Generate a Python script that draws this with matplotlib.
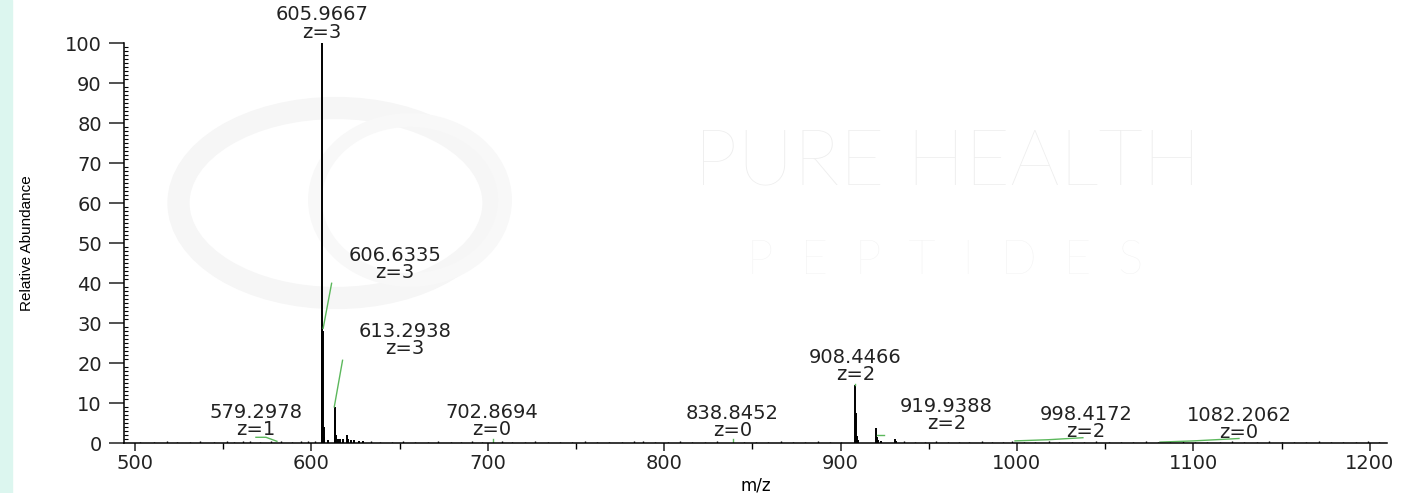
import matplotlib
matplotlib.use("Agg")
import matplotlib.pyplot as plt
from matplotlib.ticker import MultipleLocator
from matplotlib.patches import Rectangle, Ellipse

# main peaks (m/z, relative abundance)
peak_mz = [605.9667, 606.30, 606.6335, 606.97, 607.30, 609.5, 613.2938, 613.63, 613.96,
           615.0, 616.2, 618.0, 620.0, 621.0, 622.5, 624.0, 627.0, 629.5,
           908.4466, 908.95, 909.45, 910.0, 919.9388, 920.44, 921.0, 923.0, 930.8, 931.4]
peak_int = [100, 28.5, 28, 4.0, 1.5, 0.8, 9.0, 5.8, 2.0,
            1.0, 1.2, 1.0, 2.2, 1.1, 0.9, 0.8, 0.6, 0.7,
            14.7, 7.5, 1.8, 0.8, 3.8, 1.7, 0.9, 0.6, 1.1, 0.6]

# small baseline peaks
noise_mz = [503, 511, 518, 524, 531, 537, 545, 552, 556, 561, 565, 571, 577, 583, 589,
            594, 598, 602, 634, 639, 646, 652, 659, 666, 672, 679, 685, 691, 697, 708,
            714, 721, 727, 734, 741, 748, 755, 762, 769, 776, 783, 788, 795, 802, 809,
            816, 823, 830, 845, 852, 859, 866, 873, 880, 887, 894, 900, 936, 942, 948,
            954, 961, 967, 973, 980, 986, 992, 997, 1004, 1010, 1018, 1024, 1031, 1038,
            1045, 1052, 1059, 1066, 1073, 1080, 1087, 1094, 1101, 1108, 1115, 1122, 1129,
            1136, 1143, 1150, 1157, 1164, 1171, 1178, 1185, 1192, 1199, 1205]
noise_int = [0.4, 0.3, 0.5, 0.3, 0.4, 0.5, 0.3, 0.6, 0.4, 0.5, 0.6, 0.4, 0.7, 0.5, 0.4,
             0.6, 0.5, 0.7, 0.5, 0.4, 0.3, 0.5, 0.4, 0.3, 0.5, 0.4, 0.3, 0.5, 0.4, 0.6,
             0.4, 0.3, 0.5, 0.4, 0.3, 0.4, 0.5, 0.3, 0.4, 0.3, 0.5, 0.7, 0.4, 0.3, 0.5,
             0.4, 0.3, 0.5, 0.4, 0.3, 0.4, 0.5, 0.3, 0.4, 0.5, 0.3, 0.4, 0.5, 0.4, 0.3,
             0.5, 0.4, 0.3, 0.4, 0.5, 0.3, 0.4, 0.6, 0.4, 0.3, 0.5, 0.4, 0.3, 0.4,
             0.5, 0.3, 0.4, 0.3, 0.5, 0.4, 0.3, 0.5, 0.4, 0.3, 0.4, 0.5, 0.3,
             0.4, 0.5, 0.3, 0.4, 0.3, 0.5, 0.4, 0.3, 0.4, 0.5, 0.4]

# green isotope envelope traces
env_mz = [[568.6, 574.3, 580.5], [606.7, 611.5], [613.0, 617.7], [702.87, 702.87],
          [838.85, 838.85], [908.45, 908.45], [920.4, 924.5],
          [998.9, 1018.0, 1037.4], [1081.1, 1100.0, 1125.9]]
env_int = [[1.5, 1.5, 0.5], [28.75, 40.0], [9.1, 20.75], [0.3, 1.1],
           [0.3, 1.0], [14.6, 14.9], [2.2, 2.2],
           [0.6, 0.9, 1.4], [0.3, 0.6, 1.2]]

# peak labels
lab_text = ["605.9667", "606.6335", "613.2938", "579.2978", "702.8694",
            "838.8452", "908.4466", "919.9388", "998.4172", "1082.2062"]
lab_z = [3, 3, 3, 1, 0, 0, 2, 2, 2, 0]
lab_x = [605.97, 647.4, 653.1, 568.6, 702.1, 838.8, 908.45, 960.1, 1039.1, 1125.9]
lab_y = [101.4, 41.3, 22.3, 2.1, 2.1, 1.8, 15.8, 3.6, 1.6, 1.3]

W, H = 1414, 493
fig = plt.figure(figsize=(W / 100, H / 100), dpi=100)
fig.patch.set_facecolor("white")

# pale strip on the left edge
fig.patches.append(Rectangle((0, 0), 12 / W, 1, transform=fig.transFigure,
                             color="#dcf6ef", zorder=0))

# faint watermark
wm = "#f6f6f6"
fig.patches.append(Ellipse((336 / W, 1 - 203 / H), 315 / W, 190 / H, transform=fig.transFigure,
                           fill=False, lw=16, ec=wm, zorder=0))
fig.patches.append(Ellipse((410 / W, 1 - 200 / H), 190 / W, 160 / H,
                           transform=fig.transFigure, fill=False, lw=10, ec="#f8f8f8", zorder=0))
fig.text(947 / W, 1 - 163 / H, "PURE HEALTH", ha="center", va="center", fontsize=56,
         family="Lato", weight="light", color="#eeeeee", zorder=0)
fig.text(945 / W, 1 - 262 / H, "P  E  P  T  I  D  E  S", ha="center", va="center",
         fontsize=34, family="Lato", weight="light", color="#f2f2f2", zorder=0)

ax = fig.add_axes([124 / W, (H - 443.3) / H, (1387 - 124) / W, 400 / H])
ax.set_zorder(2)
ax.patch.set_alpha(0)

ax.vlines(noise_mz, 0, noise_int, color="black", lw=1.0)
ax.vlines(peak_mz, 0, peak_int, color="black", lw=1.4)
for xs, ys in zip(env_mz, env_int):
    ax.plot(xs, ys, color="#5cb85c", lw=1.0)

for t, z, x, y in zip(lab_text, lab_z, lab_x, lab_y):
    ax.annotate(f"{t}\nz={z}", (x, y), xytext=(0, -3), textcoords="offset points",
                ha="center", va="bottom", fontsize=14, linespacing=0.9,
                color="#222222", annotation_clip=False)

ax.set_xlim(493.8, 1209.8)
ax.set_ylim(0, 100)
ax.spines["top"].set_visible(False)
ax.spines["right"].set_visible(False)
ax.spines["left"].set_linewidth(1.1)
ax.spines["bottom"].set_linewidth(1.1)

ax.xaxis.set_major_locator(MultipleLocator(100))
ax.xaxis.set_minor_locator(MultipleLocator(50))
ax.yaxis.set_major_locator(MultipleLocator(10))
ax.yaxis.set_minor_locator(MultipleLocator(1))
ax.tick_params(axis="x", which="major", direction="out", length=6, width=1.1,
               labelsize=14, pad=2, colors="#222222")
ax.tick_params(axis="x", which="minor", direction="out", length=4, width=1.0)
ax.tick_params(axis="y", which="major", direction="out", length=11, width=1.1,
               labelsize=14, pad=5, colors="#222222")
ax.tick_params(axis="y", which="minor", direction="in", length=3, width=0.8)

ax.set_xlabel("m/z", fontsize=12, labelpad=2)
ax.set_ylabel("Relative Abundance", fontsize=11, family="Liberation Sans", labelpad=22)

fig.savefig("out.png", dpi=100)
